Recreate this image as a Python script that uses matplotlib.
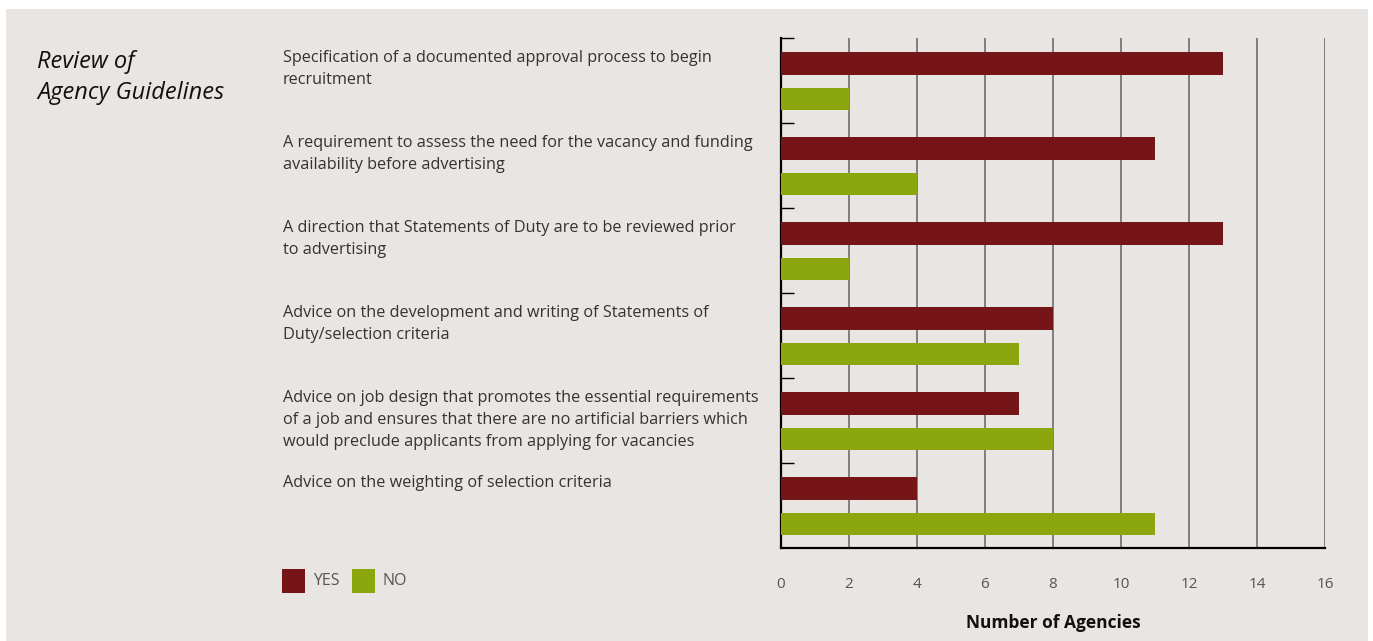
import numpy as np
import matplotlib.pyplot as plt
from matplotlib import transforms
from matplotlib.patches import Rectangle

# guideline items and agency counts
items = [
    "Specification of a documented approval process to begin\nrecruitment",
    "A requirement to assess the need for the vacancy and funding\navailability before advertising",
    "A direction that Statements of Duty are to be reviewed prior\nto advertising",
    "Advice on the development and writing of Statements of\nDuty/selection criteria",
    "Advice on job design that promotes the essential requirements\nof a job and ensures that there are no artificial barriers which\nwould preclude applicants from applying for vacancies",
    "Advice on the weighting of selection criteria",
]
yes_counts = [13, 11, 13, 8, 7, 4]
no_counts = [2, 4, 2, 7, 8, 11]
x_ticks = [0, 2, 4, 6, 8, 10, 12, 14, 16]

YES_COLOR = "#761517"
NO_COLOR = "#8ba70d"
BG = "#e8e5e2"

plt.rcParams['font.family'] = ['Open Sans', 'DejaVu Sans']

fig = plt.figure(figsize=(13.73, 6.41), dpi=100, facecolor="white")
fig.patches.append(Rectangle((6 / 1373, 0), 1362 / 1373, 632 / 641,
                             transform=fig.transFigure, facecolor=BG,
                             edgecolor="none", zorder=-10))

ax = fig.add_axes([781 / 1373, 1 - 548 / 641, 544 / 1373, 510 / 641])
ax.set_facecolor("none")

n = len(items)
group = np.arange(n)
bar_h = 0.26
ax.barh(group + 0.30, yes_counts, height=bar_h, color=YES_COLOR, zorder=3)
ax.barh(group + 0.72, no_counts, height=bar_h, color=NO_COLOR, zorder=3)

ax.set_xlim(0, 16)
ax.set_ylim(n, 0)

# vertical grid lines
for x in x_ticks[1:]:
    ax.axvline(x, color="#7f7f7f", lw=1.4, zorder=1)

ax.set_xticks(x_ticks)
ax.tick_params(axis="x", length=0, pad=21, labelsize=11, labelcolor="#555555")
ax.set_yticks(group)
ax.set_yticklabels([])
ax.tick_params(axis="y", direction="in", length=9.5, width=1, color="black")

for side in ["top", "right"]:
    ax.spines[side].set_visible(False)
ax.spines["left"].set_linewidth(1.6)
ax.spines["bottom"].set_linewidth(1.6)

ax.set_xlabel("Number of Agencies", fontsize=12.5, fontweight="bold",
              color="#111111", labelpad=16)

# item descriptions on the left
trans = transforms.blended_transform_factory(fig.transFigure, ax.transData)
for i, text in enumerate(items):
    ax.text(283 / 1373, i + 0.14, text, transform=trans, ha="left", va="top",
            fontsize=11.7, color="#333333", linespacing=1.5, clip_on=False)

fig.text(37 / 1373, 1 - 50 / 641, "Review of\nAgency Guidelines", ha="left",
         va="top", fontsize=17, style="italic", color="#111111",
         linespacing=1.38)

# legend swatches
for x0, label, color in [(282, "YES", YES_COLOR), (352, "NO", NO_COLOR)]:
    fig.patches.append(Rectangle((x0 / 1373, 1 - 593 / 641), 23 / 1373, 24 / 641,
                                 transform=fig.transFigure, facecolor=color,
                                 edgecolor="none"))
    fig.text((x0 + 31) / 1373, 1 - 581 / 641, label, ha="left", va="center",
             fontsize=11.5, color="#555555")

fig.savefig("out.png", dpi=100, facecolor=fig.get_facecolor())
